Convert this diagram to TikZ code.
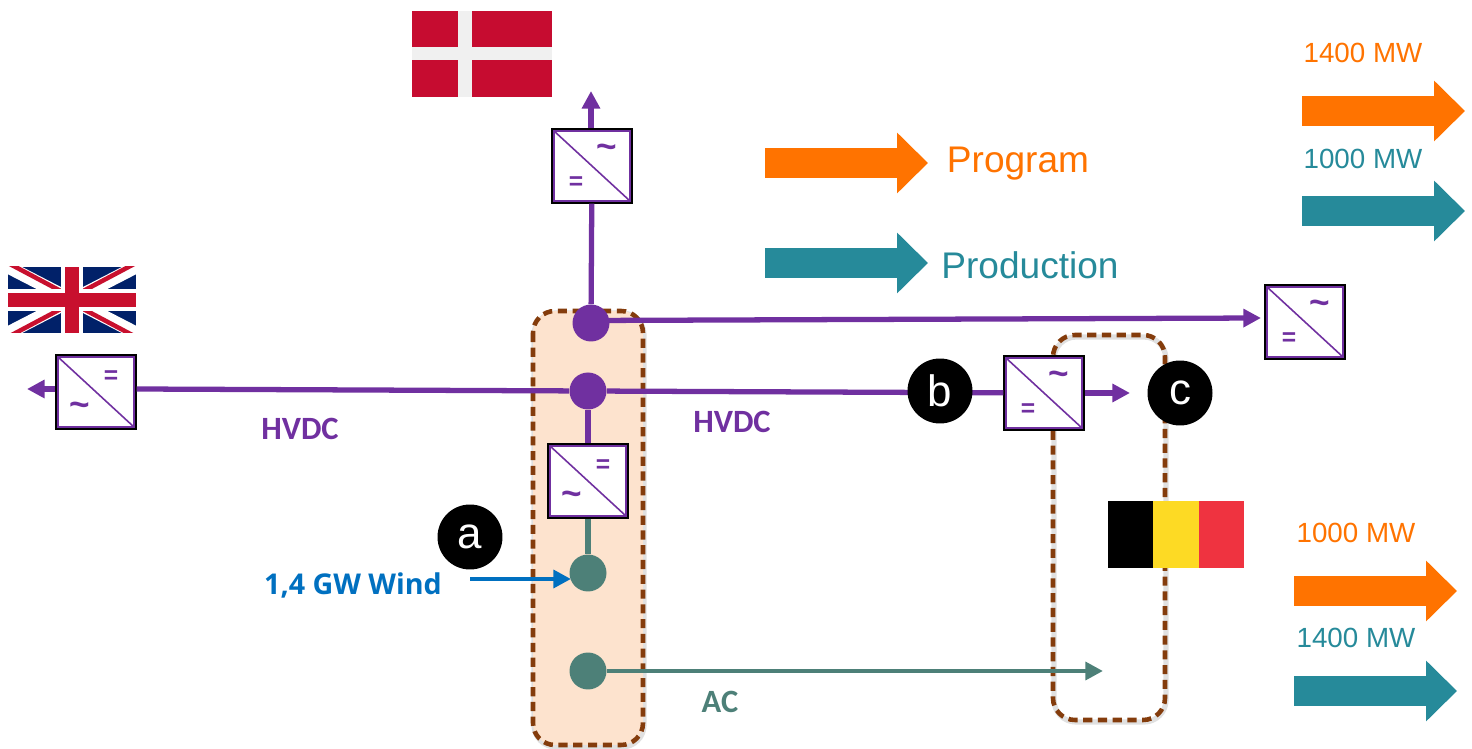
\documentclass[tikz,border=0pt]{standalone}
\usepackage{fontspec}
\usepackage{xcolor}
\setmainfont{Liberation Sans}
\newfontfamily\labelfont{Open Sans}
\newfontfamily\tagfont{Carlito}
\usetikzlibrary{arrows.meta}
\definecolor{DcPurple}{HTML}{7030A0}
\definecolor{AcGreen}{HTML}{4D8078}
\definecolor{WindBlue}{HTML}{0070C0}
\definecolor{ProgOrange}{HTML}{FF7300}
\definecolor{ProdTeal}{HTML}{268A9A}
\definecolor{ZoneBrown}{HTML}{843C0C}
\definecolor{ZoneFill}{HTML}{FDE3CE}
\definecolor{DkRed}{HTML}{C60C30}
\definecolor{UkBlue}{HTML}{012169}
\definecolor{UkRed}{HTML}{C8102E}
\definecolor{BeYellow}{HTML}{FDDA24}
\definecolor{BeRed}{HTML}{EF3340}
\tikzset{
  dcline/.style={
    draw=DcPurple,
    line width=3pt,
    -{Triangle[length=10pt,width=10pt]}
  },
  dcplain/.style={
    draw=DcPurple,
    line width=3pt
  },
  acplain/.style={
    draw=AcGreen,
    line width=3pt
  },
  thinarrow/.style={
    draw=#1,
    line width=2.6pt,
    -{Triangle[length=10pt,width=10pt]}
  },
  hub/.style={
    shape=circle,
    fill=#1,
    minimum size=0.74cm,
    inner sep=0pt
  },
  marker/.style={
    shape=circle,
    fill=black,
    text=white,
    minimum size=1.3cm,
    inner sep=0pt,
    font=\fontsize{25}{25}\selectfont
  },
  converter/.style={
    shape=rectangle,
    draw=black,
    line width=1.3pt,
    fill=white,
    minimum width=1.58cm,
    minimum height=1.46cm,
    inner sep=0pt
  },
  convsym/.style={
    text=DcPurple,
    inner sep=0pt,
    font=\fontsize{14}{14}\selectfont\bfseries
  },
  zone/.style={
    rounded corners=0.44cm,
    draw=ZoneBrown,
    line width=2.6pt,
    dash pattern=on 5.2pt off 3.2pt
  },
  zoneshadow/.style={
    rounded corners=0.44cm,
    draw=black!12,
    line width=3pt
  },
  fatarrow/.style={
    draw=#1,
    line width=0.6cm,
    -{Triangle[length=0.62cm,width=1.18cm]}
  },
  quantity/.style={
    text=#1,
    inner sep=0pt,
    font=\fontsize{15.8}{15.8}\selectfont
  },
  legendtext/.style={
    text=#1,
    inner sep=0pt,
    font=\fontsize{21.1}{21.1}\selectfont
  },
  tag/.style={
    text=#1,
    inner sep=0pt,
    font=\tagfont\fontsize{18.5}{18.5}\selectfont\bfseries
  },
  windtag/.style={
    text=#1,
    inner sep=0pt,
    font=\labelfont\fontsize{16.3}{16.3}\selectfont\bfseries
  }
}
\newcommand{\acsym}{{\fontsize{20}{20}\selectfont\textasciitilde}}
\newcommand{\converterbox}[5]{%
  \node[converter] (#1) at (#2,#3) {};
  \draw[DcPurple,line width=0.9pt] ([shift={(2.5,-2.5)}]#1.south west) rectangle ([shift={(-2.5,2.5)}]#1.north east);
  \draw[DcPurple,line width=0.9pt] ([shift={(2.5,2.5)}]#1.north west) -- ([shift={(-2.5,-2.5)}]#1.south east);
  \node[convsym] (#1 up) at ([shift={(15,-15)}]#1.center) {#4};
  \node[convsym] (#1 low) at ([shift={(-16,17)}]#1.center) {#5};
}
\begin{document}
\begin{tikzpicture}[x=0.02cm,y=-0.02cm]
  \useasboundingbox (0,0) rectangle (1472,749);

  % zones
  \draw[zoneshadow] (534,313) rectangle (644,747);
  \draw[zone,fill=ZoneFill] (533,311) rectangle (643,745);
  \draw[zoneshadow] (1054,337) rectangle (1166,722);
  \draw[zone] (1053,335) rectangle (1165,720);

  % flags
  \fill[DkRed] (412,11) rectangle (552,97);
  \fill[white!94!black] (458,11) rectangle (472,97);
  \fill[white!94!black] (412,47) rectangle (552,60);
  \begin{scope}
    \clip (8,267) rectangle (136,333);
    \fill[UkBlue] (8,267) rectangle (136,333);
    \draw[white,line width=0.26cm] (8,267) -- (136,333);
    \draw[white,line width=0.26cm] (8,333) -- (136,267);
    \draw[UkRed,line width=0.09cm] (8,263) -- (72,297);
    \draw[UkRed,line width=0.09cm] (72,303) -- (136,337);
    \draw[UkRed,line width=0.09cm] (8,337) -- (72,303);
    \draw[UkRed,line width=0.09cm] (72,297) -- (136,263);
    \fill[white] (61,267) rectangle (83,333);
    \fill[white] (8,289) rectangle (136,311);
    \fill[UkRed] (65,267) rectangle (79,333);
    \fill[UkRed] (8,293) rectangle (136,307);
  \end{scope}
  \fill[black] (1108,501) rectangle (1153,568);
  \fill[BeYellow] (1153,501) rectangle (1199,568);
  \fill[BeRed] (1199,501) rectangle (1244,568);

  % stations
  \converterbox{convDK}{592}{166}{\acsym}{=}
  \converterbox{convUK}{96}{392}{=}{\acsym}
  \converterbox{convWind}{588}{481}{=}{\acsym}
  \converterbox{convBE}{1044}{393}{\acsym}{=}
  \converterbox{convNL}{1305}{322}{\acsym}{=}

  % hubs
  \node[hub=DcPurple] (hubTop) at (591,323) {};
  \node[hub=DcPurple] (hubMid) at (588,391) {};
  \node[hub=AcGreen] (hubWind) at (588,573) {};
  \node[hub=AcGreen] (hubAc) at (588,671) {};

  % free ends
  \coordinate (tipDK) at (591,91);
  \coordinate (tipUK) at (27,389);
  \coordinate (tipBE) at (1130,393);
  \coordinate (tipNL) at (1261,318);
  \coordinate (tipAc) at (1103,671);
  \coordinate (tailWind) at (470,579);
  \coordinate (tipWind) at (571,579);

  % connectors
  \draw[dcplain] (hubTop) -- (convDK);
  \draw[dcline] (convDK.north -| tipDK) -- (tipDK);
  \draw[dcline] ([yshift=0.05cm]hubTop.center) -- (tipNL);
  \draw[dcplain] (hubMid) -- (convUK.east |- tipUK);
  \draw[dcline] (convUK.west |- tipUK) -- (tipUK);
  \draw[dcplain] (hubMid) -- (convBE);
  \draw[dcline] (convBE.east) -- (tipBE);
  \draw[dcplain] (hubMid) -- (convWind);
  \draw[acplain] (convWind) -- (hubWind);
  \draw[thinarrow=AcGreen] (hubAc) -- (tipAc);
  \draw[thinarrow=WindBlue] (tailWind) -- (tipWind);

  % fat arrows
  \foreach \name/\x/\y/\col in {
    legendProg/765/163/ProgOrange,
    legendProd/765/263/ProdTeal,
    topProg/1302/111/ProgOrange,
    topProd/1302/211/ProdTeal,
    lowProg/1294/591/ProgOrange,
    lowProd/1294/691/ProdTeal} {
    \coordinate (\name A) at (\x,\y);
    \coordinate (\name B) at ({\x+163},\y);
    \draw[fatarrow=\col] (\name A) -- (\name B);
  }

  % markers
  \node[marker] (markA) at (470,537) {a};
  \node[marker] (markB) at (940,391) {b};
  \node[marker] (markC) at (1180,393) {c};

  % labels
  \node[legendtext=ProgOrange] (lblProgram) at (1018,164) {Program};
  \node[legendtext=ProdTeal] (lblProduction) at (1030,265) {Production};
  \node[quantity=ProgOrange] (lblTopProg) at (1363,53) {1400 MW};
  \node[quantity=ProdTeal] (lblTopProd) at (1363,159) {1000 MW};
  \node[quantity=ProgOrange] (lblLowProg) at (1356,533) {1000 MW};
  \node[quantity=ProdTeal] (lblLowProd) at (1356,638) {1400 MW};
  \node[tag=DcPurple] (lblHvdcLeft) at (300,429) {HVDC};
  \node[tag=DcPurple] (lblHvdcRight) at (732,422) {HVDC};
  \node[tag=AcGreen] (lblAc) at (720,702) {AC};
  \node[windtag=WindBlue] (lblWind) at (353,585) {1,4 GW Wind};
\end{tikzpicture}
\end{document}
